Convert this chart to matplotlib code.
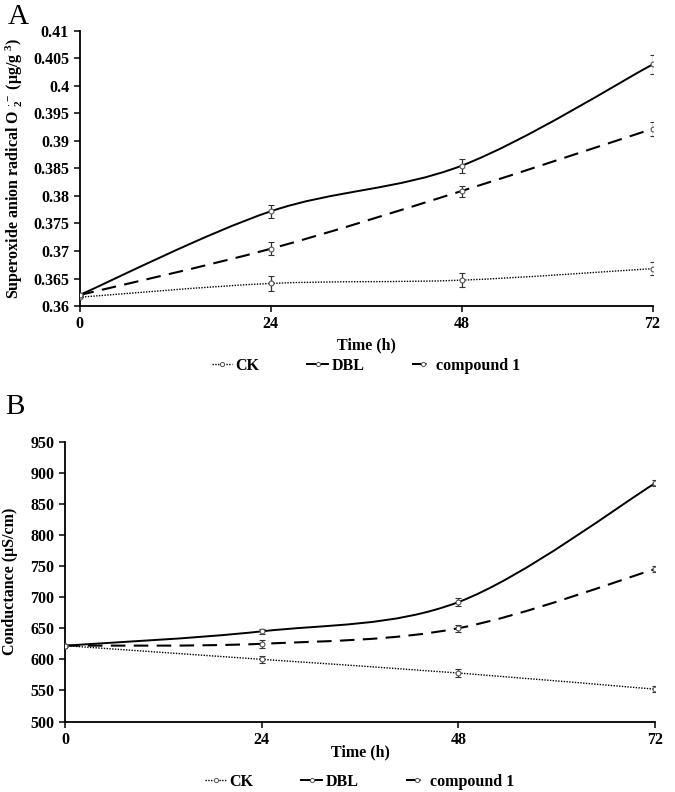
import matplotlib
matplotlib.use("Agg")
import matplotlib.pyplot as plt
from matplotlib.path import Path
from matplotlib.patches import PathPatch
from matplotlib.lines import Line2D

plt.rcParams['font.family'] = ['Liberation Serif', 'DejaVu Serif']
plt.rcParams['font.weight'] = 'bold'
plt.rcParams['mathtext.fontset'] = 'custom'
plt.rcParams['mathtext.rm'] = 'Liberation Serif:bold'
plt.rcParams['mathtext.it'] = 'Liberation Serif:bold'
plt.rcParams['mathtext.bf'] = 'Liberation Serif:bold'

# Data
hours = [0, 24, 48, 72]
series_names = ["CK", "DBL", "compound 1"]

# Panel A: superoxide anion radical
a_ck = [0.3616, 0.3641, 0.3647, 0.3668]
a_dbl = [0.3620, 0.3772, 0.3855, 0.4039]
a_cmp = [0.3620, 0.3704, 0.3809, 0.3922]
a_ck_err = [0.0, 0.0013, 0.0013, 0.0012]
a_dbl_err = [0.0, 0.0012, 0.0013, 0.0017]
a_cmp_err = [0.0, 0.0012, 0.0010, 0.0013]

# Panel B: conductance
b_ck = [622, 600, 578, 552]
b_dbl = [622, 645, 692, 883]
b_cmp = [622, 625, 650, 745]
b_ck_err = [0, 6, 6, 5]
b_dbl_err = [0, 4, 6, 5]
b_cmp_err = [0, 6, 6, 5]

styles = {
    "CK": dict(ls=(0, (1, 1)), lw=1.0),
    "DBL": dict(ls='-', lw=1.4),
    "compound 1": dict(ls=(0, (7, 4)), lw=1.5),
}


def smooth_path(x, y):
    # Excel-like smoothed line as cubic Bezier segments
    px = [x[0]] + list(x) + [x[-1]]
    py = [y[0]] + list(y) + [y[-1]]
    verts = [(x[0], y[0])]
    codes = [Path.MOVETO]
    for i in range(1, len(px) - 2):
        c1 = (px[i] + (px[i + 1] - px[i - 1]) / 6, py[i] + (py[i + 1] - py[i - 1]) / 6)
        c2 = (px[i + 1] - (px[i + 2] - px[i]) / 6, py[i + 1] - (py[i + 2] - py[i]) / 6)
        verts += [c1, c2, (px[i + 1], py[i + 1])]
        codes += [Path.CURVE4] * 3
    return Path(verts, codes)


def draw_panel(ax, data, errs, ylim, yticks, ylabel, fmt):
    for name, y, e in zip(series_names, data, errs):
        st = styles[name]
        patch = PathPatch(smooth_path(hours, y), fill=False, edgecolor='black',
                          linestyle=st['ls'], linewidth=st['lw'], zorder=2)
        ax.add_patch(patch)
        ax.errorbar(hours, y, yerr=e, fmt='o', ms=3.5, mfc='white', mec='#555555',
                    mew=0.8, ecolor='#333333', elinewidth=0.9, capsize=2, capthick=0.9,
                    zorder=3)
    ax.set_xlim(0, 72)
    ax.set_ylim(*ylim)
    ax.set_xticks(hours)
    ax.set_yticks(yticks)
    ax.set_yticklabels([fmt(v) for v in yticks])
    ax.spines['top'].set_visible(False)
    ax.spines['right'].set_visible(False)
    ax.spines['left'].set_linewidth(1.3)
    ax.spines['bottom'].set_linewidth(1.3)
    ax.tick_params(axis='both', labelsize=11.5, width=1.1, length=4, direction='out')
    ax.set_xlabel("Time (h)", fontsize=11.5, fontweight='bold')
    ax.set_ylabel(ylabel, fontsize=11.5, fontweight='bold')
    handles = []
    for name in series_names:
        st = styles[name]
        handles.append(Line2D([], [], color='black', linestyle=st['ls'], linewidth=st['lw'],
                              marker='o', ms=3, mfc='white', mec='#555555', mew=0.7))
    ax.legend(handles, series_names, loc='upper center', bbox_to_anchor=(0.5, -0.135),
              ncol=3, frameon=False, fontsize=11.5, handlelength=1.3, handletextpad=0.2,
              columnspacing=3.0)


fig = plt.figure(figsize=(6.75, 7.92), dpi=100)
ax_a = fig.add_axes([0.1178, 0.6136, 0.849, 0.3474])
ax_b = fig.add_axes([0.0963, 0.089, 0.874, 0.3533])

a_ticks = [0.36 + 0.005 * i for i in range(11)]
draw_panel(ax_a, [a_ck, a_dbl, a_cmp], [a_ck_err, a_dbl_err, a_cmp_err],
           (0.36, 0.41), a_ticks,
           r"Superoxide anion radical O $_{2}^{\cdot -}$ ($\mathrm{\mu}$g/g $^{3}$)",
           lambda v: f"{round(v, 3):g}")
ax_a.yaxis.set_label_coords(-0.095, 0.5)
ax_a.xaxis.set_label_coords(0.5, -0.115)

b_ticks = list(range(500, 951, 50))
draw_panel(ax_b, [b_ck, b_dbl, b_cmp], [b_ck_err, b_dbl_err, b_cmp_err],
           (500, 950), b_ticks, "Conductance (μS/cm)", lambda v: f"{v}")
ax_b.yaxis.set_label_coords(-0.08, 0.5)
ax_b.xaxis.set_label_coords(0.5, -0.08)

fig.text(0.012, 0.995, "A", fontsize=21, fontweight='normal', va='top', ha='left')
fig.text(0.008, 0.503, "B", fontsize=21, fontweight='normal', va='top', ha='left')

fig.savefig("out.png", dpi=100)
